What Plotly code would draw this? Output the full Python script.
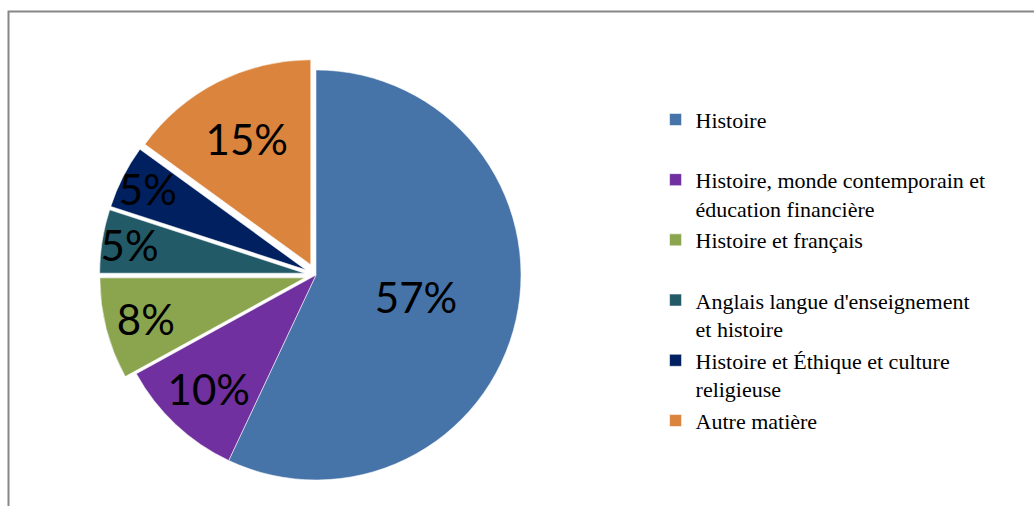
import plotly.graph_objects as go

# Subject shares (%)
subjects = [
    "Histoire",
    "Histoire, monde contemporain et<br>éducation financière",
    "Histoire et français",
    "Anglais langue d'enseignement<br>et histoire",
    "Histoire et Éthique et culture<br>religieuse",
    "Autre matière",
]
shares = [57, 10, 8, 5, 5, 15]
colors = ["#4673A8", "#7030A0", "#8BA54F", "#235A67", "#002060", "#DB843D"]
pulls = [0, 0, 0.056, 0.056, 0.056, 0.056]

# single-line entries get a blank second line so every legend slot is equal
legend_names = [s if "<br>" in s else s + "<br>\u00a0" for s in subjects]

W, H = 1034, 506

fig = go.Figure(
    go.Pie(
        labels=legend_names,
        values=shares,
        sort=False,
        direction="clockwise",
        rotation=0,
        pull=pulls,
        marker=dict(colors=colors, line=dict(color="rgba(255,255,255,0.7)", width=0.8)),
        textinfo="percent",
        textposition="inside",
        insidetextorientation="horizontal",
        textfont=dict(family="Lato", size=42, color="black"),
        domain=dict(x=[0.0962, 0.515], y=[0.0287, 0.8844]),
        hoverinfo="label+percent",
    )
)

fig.update_layout(
    width=W,
    height=H,
    margin=dict(l=0, r=0, t=0, b=0),
    paper_bgcolor="white",
    plot_bgcolor="white",
    uniformtext=dict(minsize=42, mode="show"),
    showlegend=True,
    legend=dict(
        x=0.634,
        y=0.805,
        xanchor="left",
        yanchor="top",
        valign="top",
        font=dict(family="Liberation Serif, Times New Roman, serif", size=22, color="black"),
        bgcolor="rgba(0,0,0,0)",
    ),
    shapes=[
        dict(
            type="rect",
            xref="paper",
            yref="paper",
            x0=8.5 / W,
            x1=1.05,
            y0=-0.05,
            y1=1 - 11.5 / H,
            line=dict(color="#878787", width=2),
            fillcolor="rgba(0,0,0,0)",
            layer="below",
        )
    ],
)

fig.write_html("out.html")
